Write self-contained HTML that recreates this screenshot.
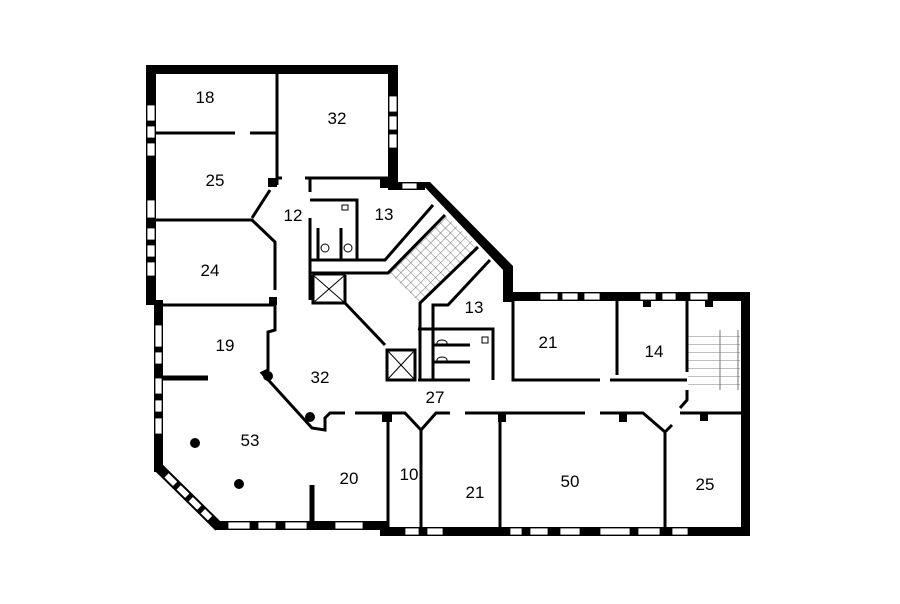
<!DOCTYPE html>
<html><head><meta charset="utf-8"><style>
html,body{margin:0;padding:0;background:#fff;width:900px;height:604px;overflow:hidden}
svg{display:block}
text{font-family:"Liberation Sans","DejaVu Sans",sans-serif;font-size:17px;fill:#000;text-anchor:middle}
</style></head><body>
<svg width="900" height="604" viewBox="0 0 900 604" xmlns="http://www.w3.org/2000/svg">
<defs>
<pattern id="st" width="7" height="7" patternUnits="userSpaceOnUse" patternTransform="rotate(45)">
<rect width="7" height="7" fill="#fff"/><path d="M0 0H7M0 0V7" stroke="#555" stroke-width="0.8"/>
</pattern>
<pattern id="st2" width="54" height="8" patternUnits="userSpaceOnUse">
<rect width="54" height="8" fill="#fff"/><path d="M0 0H54M18 0V8M36 0V8" stroke="#555" stroke-width="0.8"/>
</pattern>
</defs>
<polygon points="445,215 388,272 420,303 478,247" fill="url(#st)"/>
<rect x="688" y="330" width="52" height="60" fill="url(#st2)"/>
<g fill="#000">
<rect x="146" y="65" width="252" height="9"/>
<rect x="146" y="65" width="10" height="240"/>
<rect x="154" y="300" width="9" height="172"/>
<rect x="215" y="521" width="172" height="9"/>
<rect x="380" y="527" width="370" height="9"/>
<rect x="388" y="65" width="10" height="125"/>
<rect x="388" y="182" width="37" height="8"/>
<polygon points="420,182 430,182 513,266 513,272 503,272 503,270"/>
<rect x="503" y="270" width="10" height="32"/>
<rect x="503" y="292" width="247" height="9"/>
<rect x="741" y="292" width="9" height="244"/>
</g>
<path d="M158 467 L219 527" stroke="#000" stroke-width="10" fill="none"/>
<path d="M158 467 L219 527" stroke="#fff" stroke-width="6" fill="none" stroke-dasharray="0 12 12 5 12 5 12 5 10 40"/>
<g fill="#fff" stroke="#000" stroke-width="0.8">
<rect x="147" y="105" width="8" height="16"/><rect x="147" y="126" width="8" height="12"/>
<rect x="147" y="143" width="8" height="13"/><rect x="147" y="200" width="8" height="18"/>
<rect x="147" y="228" width="8" height="12"/><rect x="147" y="245" width="8" height="12"/>
<rect x="147" y="262" width="8" height="14"/>
<rect x="155" y="325" width="7" height="22"/><rect x="155" y="352" width="7" height="12"/>
<rect x="155" y="378" width="7" height="16"/><rect x="155" y="400" width="7" height="12"/>
<rect x="155" y="418" width="7" height="16"/>
<rect x="389" y="96" width="8" height="16"/><rect x="389" y="116" width="8" height="14"/>
<rect x="389" y="134" width="8" height="14"/>
<rect x="402" y="183" width="15" height="6"/>
<rect x="228" y="522" width="22" height="7"/><rect x="258" y="522" width="18" height="7"/>
<rect x="285" y="522" width="22" height="7"/><rect x="335" y="522" width="28" height="7"/>
<rect x="405" y="528" width="14" height="7"/><rect x="427" y="528" width="16" height="7"/>
<rect x="510" y="528" width="12" height="7"/><rect x="530" y="528" width="18" height="7"/>
<rect x="560" y="528" width="20" height="7"/><rect x="600" y="528" width="30" height="7"/>
<rect x="638" y="528" width="22" height="7"/><rect x="672" y="528" width="16" height="7"/>
<rect x="540" y="293" width="18" height="7"/><rect x="562" y="293" width="16" height="7"/>
<rect x="584" y="293" width="16" height="7"/><rect x="640" y="293" width="16" height="7"/>
<rect x="662" y="293" width="14" height="7"/><rect x="690" y="293" width="18" height="7"/>
</g>
<g stroke="#000" stroke-width="3" fill="none">
<path d="M156 133H235M250 133H277"/>
<path d="M277 74V185"/>
<path d="M277 178H282M305 178H390"/>
<path d="M310 178V192M310 218V300"/>
<path d="M270 190L252 218"/>
<path d="M156 220H252L275 242V290M275 300V312"/>
<path d="M156 305H275"/>
<path d="M310 200H357V260H310"/>
<path d="M318 228V260M341 228V260"/>
<path d="M357 260H385L433 205"/>
<path d="M310 273H388L445 215"/>
<path d="M313 275V303H345V275"/>
<path d="M345 303L385 345"/>
<path d="M387 350H415V380H387Z"/>
<path d="M478 247L420 303V380"/>
<path d="M490 260L448 305H433V380"/>
<path d="M418 329H493V380M433 345H470M433 362H470M418 380H470"/>
<path d="M513 301V380H600M610 380H687"/>
<path d="M617 301V375"/>
<path d="M687 301V372M687 390V400L680 408"/>
<path d="M275 305V330L268 332V370L262 373L312 428L325 430V418L330 413H345M355 413H405L421 430L436 413H450M465 413H585M600 413H643L665 432L672 425M680 413H741"/>
<path d="M421 430V528M388 413V528M500 413V528M665 432V528"/>
<path d="M163 378H208" stroke-width="5"/>
<path d="M312 485V522" stroke-width="5"/>
</g>
<g fill="#000">
<circle cx="268" cy="376" r="5"/><circle cx="310" cy="417" r="5"/>
<circle cx="195" cy="443" r="5"/><circle cx="239" cy="484" r="5"/>
<rect x="382" y="414" width="10" height="8"/><rect x="498" y="414" width="8" height="8"/>
<rect x="619" y="414" width="8" height="8"/><rect x="643" y="300" width="8" height="7"/>
<rect x="705" y="300" width="8" height="7"/><rect x="700" y="414" width="8" height="7"/>
<rect x="268" y="178" width="9" height="9"/><rect x="269" y="297" width="8" height="8"/>
<rect x="380" y="178" width="10" height="10"/>
</g>
<g stroke="#000" stroke-width="1" fill="none">
<path d="M313 275H345V303H313ZM313 275L345 303M345 275L313 303"/>
<path d="M387 350L415 380M415 350L387 380"/>
<circle cx="325" cy="248" r="4"/><circle cx="348" cy="248" r="4"/>
<rect x="342" y="205" width="6" height="5"/>
<rect x="482" y="337" width="6" height="6"/>
<ellipse cx="442" cy="343" rx="5" ry="3"/><ellipse cx="442" cy="360" rx="5" ry="3"/>
</g>
<text x="205" y="103">18</text>
<text x="337" y="124">32</text>
<text x="215" y="186">25</text>
<text x="293" y="221">12</text>
<text x="384" y="220">13</text>
<text x="210" y="276">24</text>
<text x="474" y="313">13</text>
<text x="225" y="351">19</text>
<text x="320" y="383">32</text>
<text x="435" y="403">27</text>
<text x="548" y="348">21</text>
<text x="654" y="357">14</text>
<text x="250" y="446">53</text>
<text x="349" y="484">20</text>
<text x="409" y="480">10</text>
<text x="475" y="498">21</text>
<text x="570" y="487">50</text>
<text x="705" y="490">25</text>
</svg>
</body></html>
